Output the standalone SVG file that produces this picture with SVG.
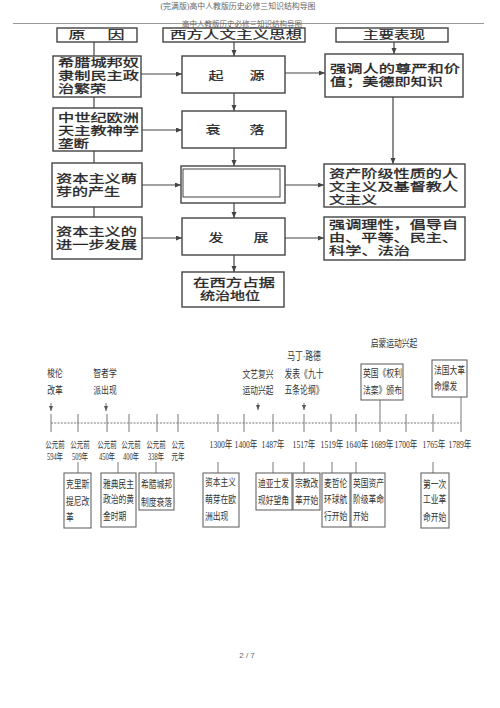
<svg xmlns="http://www.w3.org/2000/svg" width="500" height="708" viewBox="0 0 500 708">
<style>
text{font-family:"Liberation Serif","Noto Sans CJK SC",sans-serif;dominant-baseline:central}
.bx{fill:#fff;stroke:#444;stroke-width:1.4}
.tb{fill:#fff;stroke:#666;stroke-width:1.1}
.m{font-size:8.6px;fill:#222;stroke:#222;stroke-width:0.2}
.h{font-size:11.5px;fill:#222;stroke:#222;stroke-width:0.2;text-anchor:middle}
.t{font-size:7.8px;fill:#333}
.y{font-size:7.6px;fill:#333;text-anchor:middle}
.p{font-size:6.5px;fill:#333;text-anchor:middle}
.c{text-anchor:middle}
.g{fill:#666;text-anchor:middle}
.ln{stroke:#444;stroke-width:1.2;fill:none}
.tl{stroke:#777;stroke-width:1;fill:none}
.ar{marker-end:url(#a)}
.as{marker-end:url(#s)}
</style>
<defs>
<marker id="a" markerUnits="userSpaceOnUse" markerWidth="7" markerHeight="6" refX="6" refY="2.5" orient="auto"><path d="M0,0 L6,2.5 L0,5 z" fill="#444"/></marker>
<marker id="s" markerUnits="userSpaceOnUse" markerWidth="6" markerHeight="5" refX="5" refY="2" orient="auto"><path d="M0,0 L5,2 L0,4 z" fill="#555"/></marker>
</defs>
<rect width="500" height="708" fill="#fff"/>
<g id="header">
<text class="g" x="238" y="6" font-size="7.5" textLength="155" lengthAdjust="spacingAndGlyphs">(完满版)高中人教版历史必修三知识结构导图</text>
<line x1="13" y1="23.5" x2="484" y2="23.5" stroke="#999" stroke-width="1"/>
<text class="g" x="242" y="24" font-size="7.5" textLength="120" lengthAdjust="spacingAndGlyphs">高中人教版历史必修三知识结构导图</text>
</g>
<g id="connectors">
<line class="ln" x1="94" y1="42" x2="94" y2="56"/>
<line class="ln" x1="94" y1="97" x2="94" y2="108"/>
<line class="ln" x1="94" y1="151" x2="94" y2="163"/>
<line class="ln" x1="94" y1="207" x2="94" y2="217"/>
<line class="ln ar" x1="234" y1="42" x2="234" y2="56"/>
<line class="ln ar" x1="234" y1="93" x2="234" y2="111"/>
<line class="ln ar" x1="234" y1="148" x2="234" y2="166"/>
<line class="ln ar" x1="234" y1="203" x2="234" y2="218"/>
<line class="ln ar" x1="234" y1="255" x2="234" y2="272"/>
<line class="ln ar" x1="394" y1="42" x2="394" y2="54"/>
<line class="ln ar" x1="393" y1="97" x2="393" y2="164"/>
<line class="ln ar" x1="141" y1="74" x2="182" y2="74"/>
<line class="ln ar" x1="142" y1="130" x2="182" y2="130"/>
<line class="ln ar" x1="142" y1="185" x2="181" y2="185"/>
<line class="ln ar" x1="142" y1="238" x2="182" y2="238"/>
<line class="ln ar" x1="285" y1="73" x2="325" y2="73"/>
<line class="ln ar" x1="285" y1="185" x2="324" y2="185"/>
<line class="ln ar" x1="285" y1="238" x2="324" y2="238"/>
<line class="tl" x1="51" y1="423" x2="461" y2="423" stroke-dasharray="2 1.3"/>
<path class="tl" d="M51,414V432M78,414V432M107,414V432M129,414V432M157,414V432M178,414V432M218,414V432M244,414V432M273,414V432M304,414V432M331,414V432M356,414V432M380,414V432M406,414V432M433,414V432M461,414V432"/>
<line class="tl as" x1="51" y1="403" x2="51" y2="411"/>
<line class="tl as" x1="106" y1="403" x2="106" y2="411"/>
<line class="tl as" x1="258" y1="403" x2="258" y2="410"/>
<line class="tl as" x1="304" y1="403" x2="304" y2="410"/>
<line class="tl" x1="380" y1="400" x2="380" y2="414"/>
<line class="tl" x1="461" y1="397" x2="461" y2="414"/>
<path class="tl" d="M78,462V473M118,462V473M156,462V473M218,462V473M273,462V473M304,462V473M332,462V473M356,462V473M433,462V473"/>
</g>
<g id="h-yuanyin"><rect class="bx" x="57" y="28" width="80" height="14"/><text class="h" x="77" y="35" textLength="17" lengthAdjust="spacingAndGlyphs">原</text><text class="h" x="116" y="35" textLength="17" lengthAdjust="spacingAndGlyphs">因</text></g>
<g id="h-sixiang"><rect class="bx" x="163" y="28" width="142" height="14"/><text class="h" x="236" y="35" textLength="132" lengthAdjust="spacingAndGlyphs">西方人文主义思想</text></g>
<g id="h-biaoxian"><rect class="bx" x="336" y="28" width="112" height="14"/><text class="h" x="394" y="35" textLength="62" lengthAdjust="spacingAndGlyphs">主要表现</text></g>
<g id="l1"><rect class="bx" x="53" y="56" width="88" height="41"/><text class="m" transform="translate(58,63.5) scale(1,1.35)" textLength="81" lengthAdjust="spacingAndGlyphs">希腊城邦奴</text><text class="m" transform="translate(58,76.5) scale(1,1.35)" textLength="81" lengthAdjust="spacingAndGlyphs">隶制民主政</text><text class="m" transform="translate(58,89.5) scale(1,1.35)" textLength="48" lengthAdjust="spacingAndGlyphs">治繁荣</text></g>
<g id="l2"><rect class="bx" x="53" y="108" width="89" height="43"/><text class="m" transform="translate(58,118) scale(1,1.35)" textLength="81" lengthAdjust="spacingAndGlyphs">中世纪欧洲</text><text class="m" transform="translate(58,131) scale(1,1.35)" textLength="81" lengthAdjust="spacingAndGlyphs">天主教神学</text><text class="m" transform="translate(58,144) scale(1,1.35)" textLength="31" lengthAdjust="spacingAndGlyphs">垄断</text></g>
<g id="l3"><rect class="bx" x="52" y="163" width="90" height="44"/><text class="m" transform="translate(56,179) scale(1,1.35)" textLength="81" lengthAdjust="spacingAndGlyphs">资本主义萌</text><text class="m" transform="translate(56,192) scale(1,1.35)" textLength="64" lengthAdjust="spacingAndGlyphs">芽的产生</text></g>
<g id="l4"><rect class="bx" x="52" y="217" width="90" height="42"/><text class="m" transform="translate(56,232) scale(1,1.35)" textLength="81" lengthAdjust="spacingAndGlyphs">资本主义的</text><text class="m" transform="translate(56,245) scale(1,1.35)" textLength="81" lengthAdjust="spacingAndGlyphs">进一步发展</text></g>
<g id="c1"><rect class="bx" x="182" y="56" width="103" height="37"/><text class="h" x="216" y="76" textLength="15" lengthAdjust="spacingAndGlyphs">起</text><text class="h" x="257" y="76" textLength="15" lengthAdjust="spacingAndGlyphs">源</text></g>
<g id="c2"><rect class="bx" x="182" y="111" width="104" height="37"/><text class="h" x="213" y="130" textLength="15" lengthAdjust="spacingAndGlyphs">衰</text><text class="h" x="257" y="130" textLength="15" lengthAdjust="spacingAndGlyphs">落</text></g>
<g id="c3"><rect class="bx" x="181" y="166" width="104" height="37"/><rect x="183" y="169" width="97" height="28" fill="none" stroke="#444" stroke-width="1"/></g>
<g id="c4"><rect class="bx" x="182" y="218" width="103" height="37"/><text class="h" x="216" y="238" textLength="15" lengthAdjust="spacingAndGlyphs">发</text><text class="h" x="261" y="238" textLength="15" lengthAdjust="spacingAndGlyphs">展</text></g>
<g id="c5"><rect class="bx" x="182" y="272" width="102" height="35"/><text class="m c" transform="translate(234,283.5) scale(1,1.35)" textLength="82" lengthAdjust="spacingAndGlyphs">在西方占据</text><text class="m c" transform="translate(230,296.5) scale(1,1.35)" textLength="60" lengthAdjust="spacingAndGlyphs">统治地位</text></g>
<g id="r1"><rect class="bx" x="325" y="54" width="138" height="43"/><text class="m" transform="translate(330,69) scale(1,1.35)" textLength="130" lengthAdjust="spacingAndGlyphs">强调人的尊严和价</text><text class="m" transform="translate(330,82) scale(1,1.35)" textLength="113" lengthAdjust="spacingAndGlyphs">值；美德即知识</text></g>
<g id="r2"><rect class="bx" x="324" y="164" width="141" height="43"/><text class="m" transform="translate(329,174) scale(1,1.35)" textLength="129" lengthAdjust="spacingAndGlyphs">资产阶级性质的人</text><text class="m" transform="translate(329,187) scale(1,1.35)" textLength="129" lengthAdjust="spacingAndGlyphs">文主义及基督教人</text><text class="m" transform="translate(329,200) scale(1,1.35)" textLength="48" lengthAdjust="spacingAndGlyphs">文主义</text></g>
<g id="r3"><rect class="bx" x="324" y="217" width="141" height="43"/><text class="m" transform="translate(329,225) scale(1,1.35)" textLength="129" lengthAdjust="spacingAndGlyphs">强调理性，倡导自</text><text class="m" transform="translate(329,238) scale(1,1.35)" textLength="129" lengthAdjust="spacingAndGlyphs">由、平等、民主、</text><text class="m" transform="translate(329,251) scale(1,1.35)" textLength="81" lengthAdjust="spacingAndGlyphs">科学、法治</text></g>
<g id="axis-labels">
<text class="p" transform="translate(55,445) scale(1,1.45)">公元前</text><text class="p" transform="translate(55,457) scale(1,1.45)">594年</text>
<text class="p" transform="translate(80,445) scale(1,1.45)">公元前</text><text class="p" transform="translate(80,457) scale(1,1.45)">509年</text>
<text class="p" transform="translate(107,445) scale(1,1.45)">公元前</text><text class="p" transform="translate(107,457) scale(1,1.45)">450年</text>
<text class="p" transform="translate(131,445) scale(1,1.45)">公元前</text><text class="p" transform="translate(131,457) scale(1,1.45)">400年</text>
<text class="p" transform="translate(156,445) scale(1,1.45)">公元前</text><text class="p" transform="translate(156,457) scale(1,1.45)">338年</text>
<text class="p" transform="translate(178,445) scale(1,1.45)">公元</text><text class="p" transform="translate(178,457) scale(1,1.45)">元年</text>
<text class="y" transform="translate(221,445) scale(1,1.3)">1300年</text>
<text class="y" transform="translate(246,445) scale(1,1.3)">1400年</text>
<text class="y" transform="translate(273,445) scale(1,1.3)">1487年</text>
<text class="y" transform="translate(304,445) scale(1,1.3)">1517年</text>
<text class="y" transform="translate(332,445) scale(1,1.3)">1519年</text>
<text class="y" transform="translate(357,445) scale(1,1.3)">1640年</text>
<text class="y" transform="translate(382,445) scale(1,1.3)">1689年</text>
<text class="y" transform="translate(406,445) scale(1,1.3)">1700年</text>
<text class="y" transform="translate(434,445) scale(1,1.3)">1765年</text>
<text class="y" transform="translate(460,445) scale(1,1.3)">1789年</text>
</g>
<g id="e-solon"><text class="t c" transform="translate(55,374) scale(1,1.3)">梭伦</text><text class="t c" transform="translate(55,391) scale(1,1.3)">改革</text></g>
<g id="e-sophist"><text class="t c" transform="translate(105,374) scale(1,1.3)">智者学</text><text class="t c" transform="translate(105,391) scale(1,1.3)">派出现</text></g>
<g id="e-renaissance"><text class="t c" transform="translate(258,375) scale(1,1.3)">文艺复兴</text><text class="t c" transform="translate(258,391) scale(1,1.3)">运动兴起</text></g>
<g id="e-luther"><text class="t c" font-size="7" transform="translate(304,357) scale(1,1.4)">马丁·路德</text><text class="t c" font-size="7" transform="translate(304,375) scale(1,1.4)">发表《九十</text><text class="t c" font-size="7" transform="translate(304,391) scale(1,1.4)">五条论纲》</text></g>
<g id="e-enlight"><text class="t c" font-size="8.3" transform="translate(394,344) scale(1,1.25)">启蒙运动兴起</text></g>
<g id="e-bill"><rect class="tb" x="361" y="364" width="42" height="36"/><text class="t" transform="translate(363,374) scale(1,1.3)">英国《权利</text><text class="t" transform="translate(363,391) scale(1,1.3)">法案》颁布</text></g>
<g id="e-french"><rect class="tb" x="432" y="360" width="35" height="37"/><text class="t" transform="translate(434,371) scale(1,1.3)">法国大革</text><text class="t" transform="translate(434,387) scale(1,1.3)">命爆发</text></g>
<g id="b-cleisthenes"><rect class="tb" x="64" y="473" width="27" height="55"/><text class="t" transform="translate(66,485) scale(1,1.3)">克里斯</text><text class="t" transform="translate(66,502) scale(1,1.3)">提尼改</text><text class="t" transform="translate(66,518) scale(1,1.3)">革</text></g>
<g id="b-athens"><rect class="tb" x="101" y="473" width="35" height="54"/><text class="t" transform="translate(103,485) scale(1,1.3)">雅典民主</text><text class="t" transform="translate(103,500) scale(1,1.3)">政治的黄</text><text class="t" transform="translate(103,517) scale(1,1.3)">金时期</text></g>
<g id="b-greekdecline"><rect class="tb" x="139" y="473" width="35" height="37"/><text class="t" transform="translate(141,485) scale(1,1.3)">希腊城邦</text><text class="t" transform="translate(141,503) scale(1,1.3)">制度衰落</text></g>
<g id="b-capital"><rect class="tb" x="203" y="473" width="36" height="54"/><text class="t" transform="translate(205,483) scale(1,1.3)">资本主义</text><text class="t" transform="translate(205,500) scale(1,1.3)">萌芽在欧</text><text class="t" transform="translate(205,517) scale(1,1.3)">洲出现</text></g>
<g id="b-dias"><rect class="tb" x="256" y="473" width="36" height="37"/><text class="t" transform="translate(258,484) scale(1,1.3)">迪亚士发</text><text class="t" transform="translate(258,501) scale(1,1.3)">现好望角</text></g>
<g id="b-reform"><rect class="tb" x="293" y="473" width="27" height="37"/><text class="t" transform="translate(295,484) scale(1,1.3)">宗教改</text><text class="t" transform="translate(295,501) scale(1,1.3)">革开始</text></g>
<g id="b-magellan"><rect class="tb" x="322" y="473" width="28" height="54"/><text class="t" transform="translate(324,484) scale(1,1.3)">麦哲伦</text><text class="t" transform="translate(324,500) scale(1,1.3)">环球航</text><text class="t" transform="translate(324,517) scale(1,1.3)">行开始</text></g>
<g id="b-englishrev"><rect class="tb" x="351" y="473" width="34" height="54"/><text class="t" transform="translate(353,484) scale(1,1.3)">英国资产</text><text class="t" transform="translate(353,500) scale(1,1.3)">阶级革命</text><text class="t" transform="translate(353,517) scale(1,1.3)">开始</text></g>
<g id="b-industrial"><rect class="tb" x="421" y="473" width="28" height="55"/><text class="t" transform="translate(423,485) scale(1,1.3)">第一次</text><text class="t" transform="translate(423,500) scale(1,1.3)">工业革</text><text class="t" transform="translate(423,518) scale(1,1.3)">命开始</text></g>
<g id="footer"><text class="g" x="247" y="655" font-size="8" style="font-family:'Liberation Sans',sans-serif">2 / 7</text></g>
</svg>
